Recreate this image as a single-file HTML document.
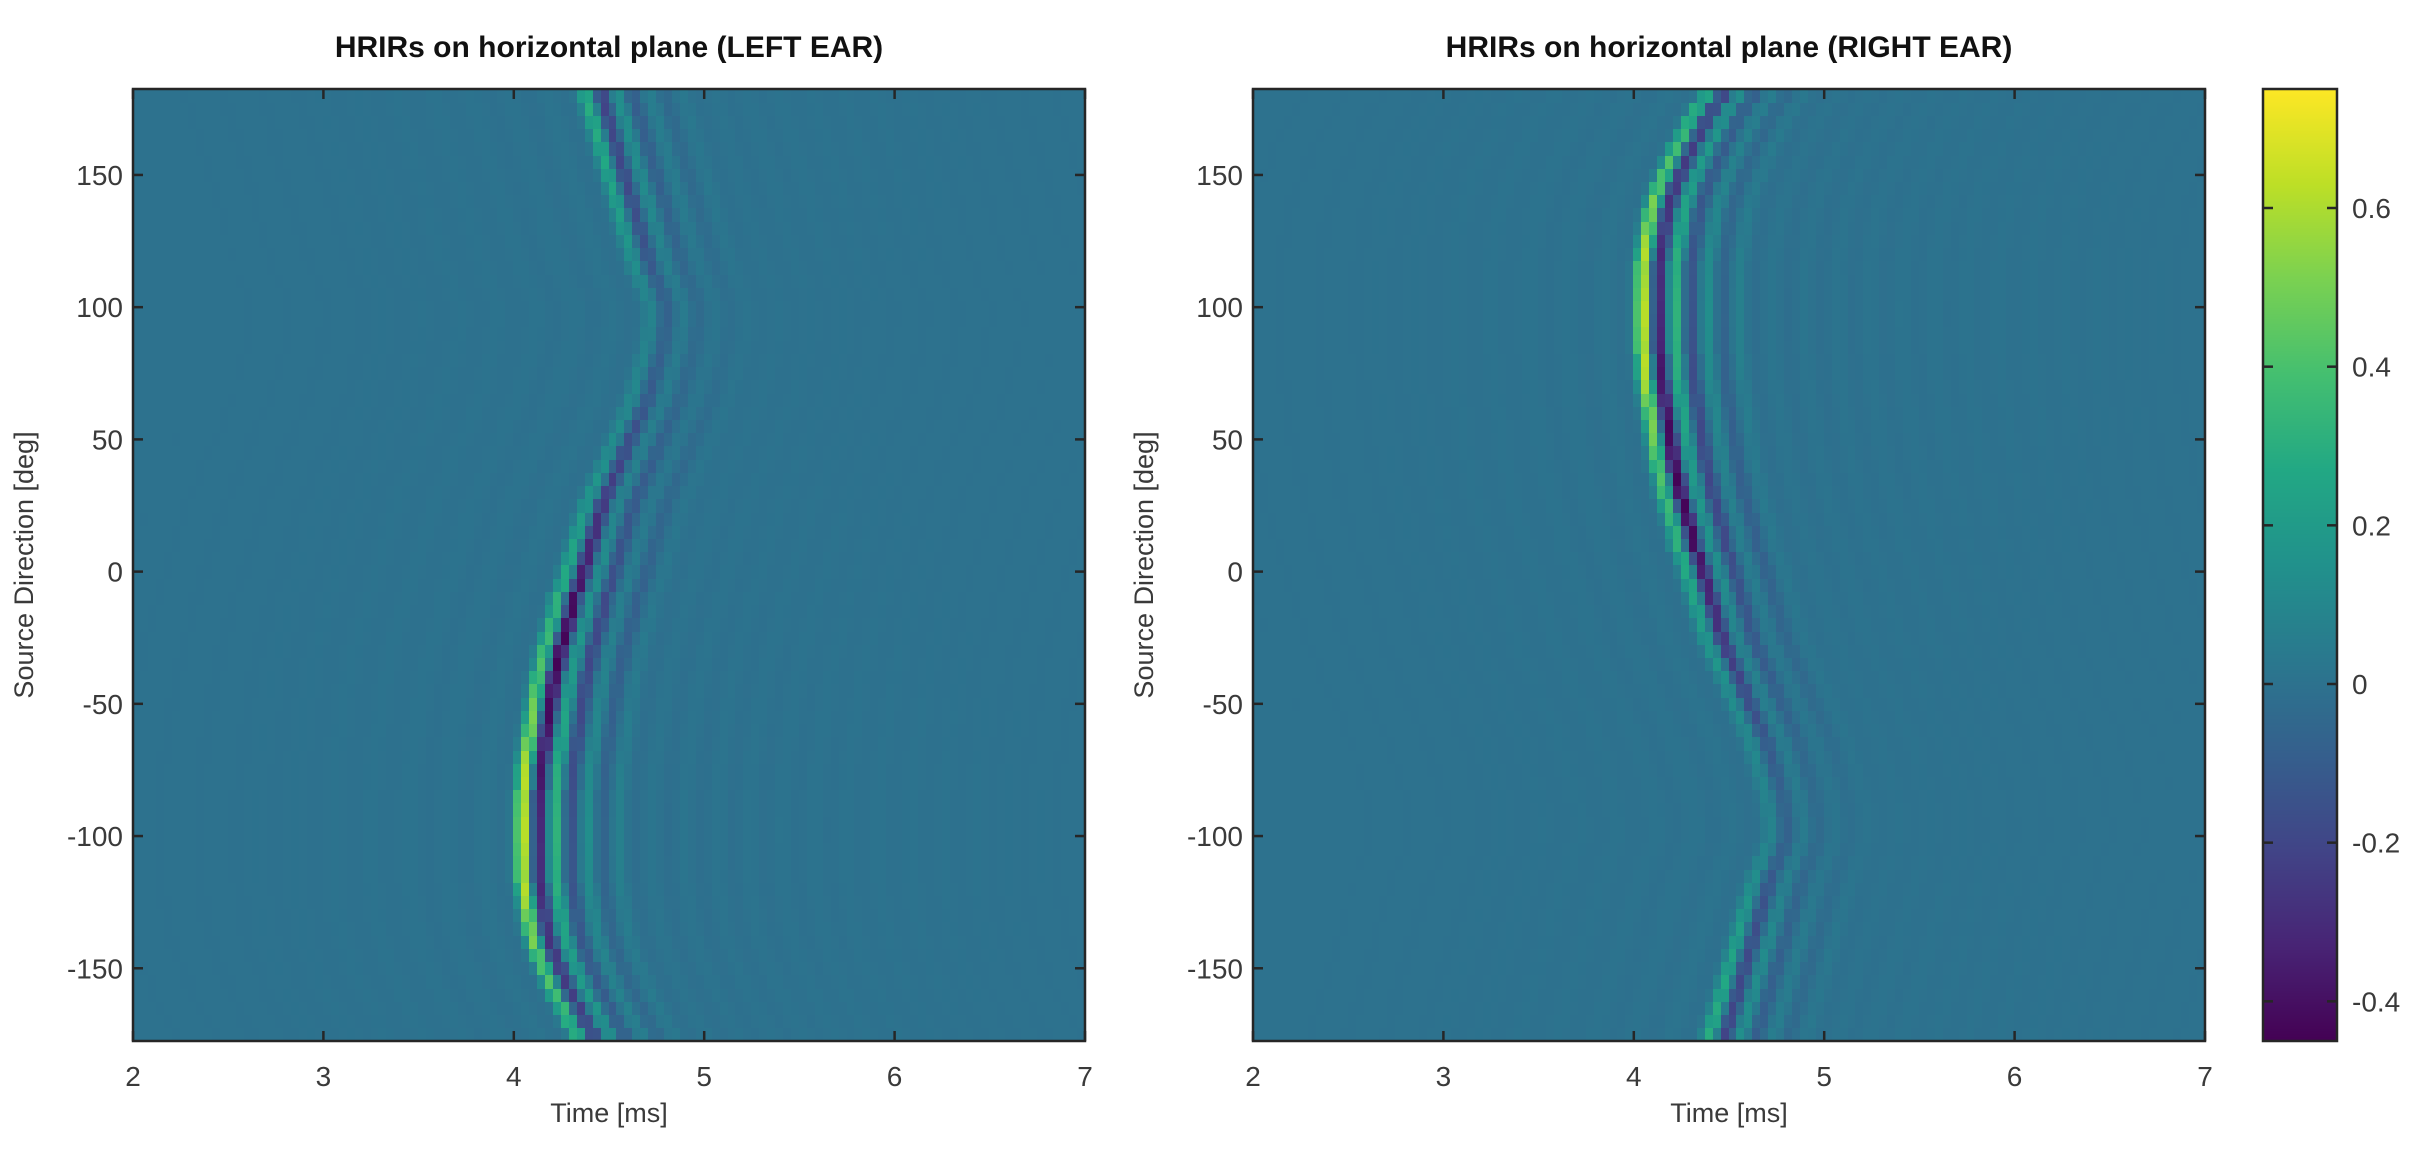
<!DOCTYPE html>
<html><head><meta charset="utf-8"><style>
html,body{margin:0;padding:0;background:#fff;width:2415px;height:1172px;overflow:hidden;font-family:"Liberation Sans",sans-serif}
canvas{position:absolute;image-rendering:pixelated}
svg{position:absolute;left:0;top:0}
</style></head><body>
<canvas id="cl" style="left:133px;top:89px" width="952" height="952"></canvas>
<canvas id="cr" style="left:1253px;top:89px" width="952" height="952"></canvas>
<canvas id="cb" style="left:2263px;top:89px" width="74" height="952"></canvas>
<svg id="ov" width="2415" height="1172"></svg>
<script>
// ---- data ----
const directions = []; for (let d=-175; d<=180; d+=5) directions.push(d);
const timeRange = [2, 7];
const dirRange = [-177.5, 182.5];
const colorRange = [-0.45, 0.75];
const xTicks = [2,3,4,5,6,7];
const yTicks = [-150,-100,-50,0,50,100,150];
const cbTicks = [-0.4,-0.2,0,0.2,0.4,0.6];
const cbTickLabels = ["-0.4","-0.2","0","0.2","0.4","0.6"];
const numTimeBins = 120;
const lobeOffsets = [0, 0.085, 0.17, 0.25, 0.34, 0.42, 0.5];
const lobePosWeights = [1, 0, 0.5, 0, 0.2, 0, 0.08];
const lobeNegWeights = [0, 1, 0, 0.45, 0, 0.2, 0];

const leftArrival = [4.33,4.29,4.26,4.22,4.19,4.16,4.13,4.11,4.09,4.08,4.07,4.06,4.05,4.05,4.05,4.05,4.05,4.05,4.05,4.06,4.06,4.07,4.08,4.09,4.10,4.11,4.12,4.13,4.15,4.16,4.18,4.20,4.22,4.23,4.26,4.28,4.30,4.32,4.34,4.36,4.38,4.41,4.44,4.47,4.50,4.53,4.56,4.59,4.62,4.64,4.66,4.68,4.70,4.71,4.72,4.72,4.70,4.67,4.64,4.62,4.60,4.58,4.56,4.54,4.52,4.50,4.48,4.46,4.44,4.42,4.40,4.38];
const leftPos = [.35,.36,.38,.40,.42,.45,.48,.52,.55,.58,.60,.62,.64,.66,.68,.70,.70,.68,.66,.63,.62,.60,.58,.55,.52,.50,.48,.45,.42,.40,.38,.36,.34,.32,.30,.29,.28,.26,.24,.22,.20,.19,.18,.16,.15,.14,.13,.12,.12,.11,.10,.10,.09,.09,.09,.09,.10,.12,.14,.16,.18,.20,.22,.24,.25,.26,.27,.28,.29,.30,.30,.30];
const leftNeg = [-.22,-.23,-.24,-.25,-.26,-.28,-.29,-.30,-.30,-.30,-.31,-.32,-.32,-.33,-.33,-.34,-.35,-.36,-.37,-.38,-.39,-.40,-.41,-.42,-.43,-.44,-.45,-.45,-.46,-.46,-.45,-.45,-.44,-.42,-.40,-.38,-.36,-.34,-.32,-.30,-.28,-.26,-.24,-.22,-.20,-.18,-.16,-.14,-.12,-.11,-.10,-.09,-.08,-.08,-.08,-.08,-.09,-.10,-.12,-.14,-.15,-.16,-.17,-.18,-.19,-.20,-.20,-.21,-.21,-.22,-.22,-.22];
const rightArrival = [4.40,4.42,4.44,4.46,4.48,4.50,4.52,4.54,4.56,4.58,4.60,4.62,4.64,4.67,4.70,4.72,4.72,4.71,4.70,4.68,4.66,4.64,4.62,4.59,4.56,4.53,4.50,4.47,4.44,4.41,4.38,4.36,4.34,4.32,4.30,4.28,4.26,4.23,4.22,4.20,4.18,4.16,4.15,4.13,4.12,4.11,4.10,4.09,4.08,4.07,4.06,4.06,4.05,4.05,4.05,4.05,4.05,4.05,4.05,4.06,4.07,4.08,4.09,4.11,4.13,4.16,4.19,4.22,4.26,4.29,4.33,4.38];
const rightPos = [.30,.30,.29,.28,.27,.26,.25,.24,.22,.20,.18,.16,.14,.12,.10,.09,.09,.09,.09,.10,.10,.11,.12,.12,.13,.14,.15,.16,.18,.19,.20,.22,.24,.26,.28,.29,.30,.32,.34,.36,.38,.40,.42,.45,.48,.50,.52,.55,.58,.60,.62,.63,.66,.68,.70,.70,.68,.66,.64,.62,.60,.58,.55,.52,.48,.45,.42,.40,.38,.36,.35,.30];
const rightNeg = [-.22,-.22,-.21,-.21,-.20,-.20,-.19,-.18,-.17,-.16,-.15,-.14,-.12,-.10,-.09,-.08,-.08,-.08,-.08,-.09,-.10,-.11,-.12,-.14,-.16,-.18,-.20,-.22,-.24,-.26,-.28,-.30,-.32,-.34,-.36,-.38,-.40,-.42,-.44,-.45,-.45,-.46,-.46,-.45,-.45,-.44,-.43,-.42,-.41,-.40,-.39,-.38,-.37,-.36,-.35,-.34,-.33,-.33,-.32,-.32,-.31,-.30,-.30,-.30,-.29,-.28,-.26,-.25,-.24,-.23,-.22,-.22];

// ---- viridis ----
const vir = [[68,1,84],[72,36,117],[65,68,135],[53,95,141],[42,120,142],[33,145,140],[34,168,132],[68,191,112],[122,209,81],[189,223,38],[253,231,37]];
function cmap(v){let u=(v-colorRange[0])/(colorRange[1]-colorRange[0]);u=Math.max(0,Math.min(1,u))*(vir.length-1);const i=Math.min(vir.length-2,Math.floor(u)),f=u-i;const a=vir[i],b=vir[i+1];return `rgb(${Math.round(a[0]+(b[0]-a[0])*f)},${Math.round(a[1]+(b[1]-a[1])*f)},${Math.round(a[2]+(b[2]-a[2])*f)})`;}

const W=952,H=952;
function xScale(t){return (t-timeRange[0])/(timeRange[1]-timeRange[0])*W;}
function yScale(d){return (dirRange[1]-d)/(dirRange[1]-dirRange[0])*H;}

function drawHeat(id, arr, pos, neg){
  const c=document.getElementById(id).getContext('2d');
  const dt=(timeRange[1]-timeRange[0])/numTimeBins, sig=0.028;
  directions.forEach((d,i)=>{
    const t0=arr[i], p=pos[i], n=neg[i];
    const y0=yScale(d+2.5), y1=yScale(d-2.5);
    for(let j=0;j<numTimeBins;j++){
      const t=timeRange[0]+(j+0.5)*dt;
      let v=0;
      for(let k=0;k<lobeOffsets.length;k++){
        const g=Math.exp(-Math.pow((t-t0-lobeOffsets[k])/sig,2)/2);
        v+=g*(lobePosWeights[k]*p+lobeNegWeights[k]*n);
      }
      const dd=t-t0;
      if(dd>0.5) v+=0.025*Math.cos(dd*2*Math.PI/0.17)*Math.exp(-(dd-0.5)/1.2)*(p+0.1);
      else if(dd<-0.05) v+=0.012*Math.cos(dd*2*Math.PI/0.2)*Math.exp(dd/1.0);
      const x0=xScale(timeRange[0]+j*dt), x1=xScale(timeRange[0]+(j+1)*dt);
      c.fillStyle=cmap(v);
      c.fillRect(Math.floor(x0),Math.floor(y0),Math.ceil(x1)-Math.floor(x0),Math.ceil(y1)-Math.floor(y0));
    }
  });
}
drawHeat('cl',leftArrival,leftPos,leftNeg);
drawHeat('cr',rightArrival,rightPos,rightNeg);

(function(){const c=document.getElementById('cb').getContext('2d');
for(let y=0;y<H;y++){const v=colorRange[1]-(y+0.5)/H*(colorRange[1]-colorRange[0]);c.fillStyle=cmap(v);c.fillRect(0,y,74,1);}})();
function cbY(v){return 89+(colorRange[1]-v)/(colorRange[1]-colorRange[0])*H;}

// ---- overlay ----
const ov=document.getElementById('ov');const NS='http://www.w3.org/2000/svg';
function el(tag,attrs,txt){const e=document.createElementNS(NS,tag);for(const k in attrs)e.setAttribute(k,attrs[k]);if(txt!==undefined)e.textContent=txt;ov.appendChild(e);return e;}
const TF=28;
function axes(L,T,title,side){
  let e=el('rect',{x:L,y:T,width:W,height:H,fill:'none',stroke:'#262626','stroke-width':2.5});
  
  
  xTicks.forEach(v=>{const x=L+xScale(v);
    el('line',{x1:x,y1:T+H,x2:x,y2:T+H-10,stroke:'#262626','stroke-width':2.5});
    el('line',{x1:x,y1:T,x2:x,y2:T+10,stroke:'#262626','stroke-width':2.5});
    const t=el('text',{x:x,y:T+H+45,'text-anchor':'middle','font-size':TF,fill:'#3a3a3a'},String(v));
    
    
  });
  yTicks.forEach(v=>{const y=T+yScale(v);
    el('line',{x1:L,y1:y,x2:L+10,y2:y,stroke:'#262626','stroke-width':2.5});
    el('line',{x1:L+W,y1:y,x2:L+W-10,y2:y,stroke:'#262626','stroke-width':2.5});
    const t=el('text',{x:L-10,y:y+10,'text-anchor':'end','font-size':TF,fill:'#3a3a3a'},String(v));
    
    
  });
  let tt=el('text',{x:L+W/2,y:57,'text-anchor':'middle','font-size':30,'font-weight':'bold',fill:'#111'},title);
  
  
  let xl=el('text',{x:L+W/2,y:1122,'text-anchor':'middle','font-size':27,fill:'#3a3a3a'},'Time [ms]');
  
  
  let yl=el('text',{x:0,y:0,'text-anchor':'middle','font-size':27,fill:'#3a3a3a',transform:`translate(${L-100},${T+H/2}) rotate(-90)`},'Source Direction [deg]');
  
  
}
axes(133,89,'HRIRs on horizontal plane (LEFT EAR)','left');
axes(1253,89,'HRIRs on horizontal plane (RIGHT EAR)','right');
let cf=el('rect',{x:2263,y:89,width:74,height:H,fill:'none',stroke:'#262626','stroke-width':2.5});


cbTicks.forEach((v,i)=>{const y=cbY(v);
  el('line',{x1:2263,y1:y,x2:2273,y2:y,stroke:'#262626','stroke-width':2.5});
  el('line',{x1:2337,y1:y,x2:2327,y2:y,stroke:'#262626','stroke-width':2.5});
  const t=el('text',{x:2352,y:y+10,'font-size':TF,fill:'#3a3a3a'},cbTickLabels[i]);
  
  
});
</script>
</body></html>
